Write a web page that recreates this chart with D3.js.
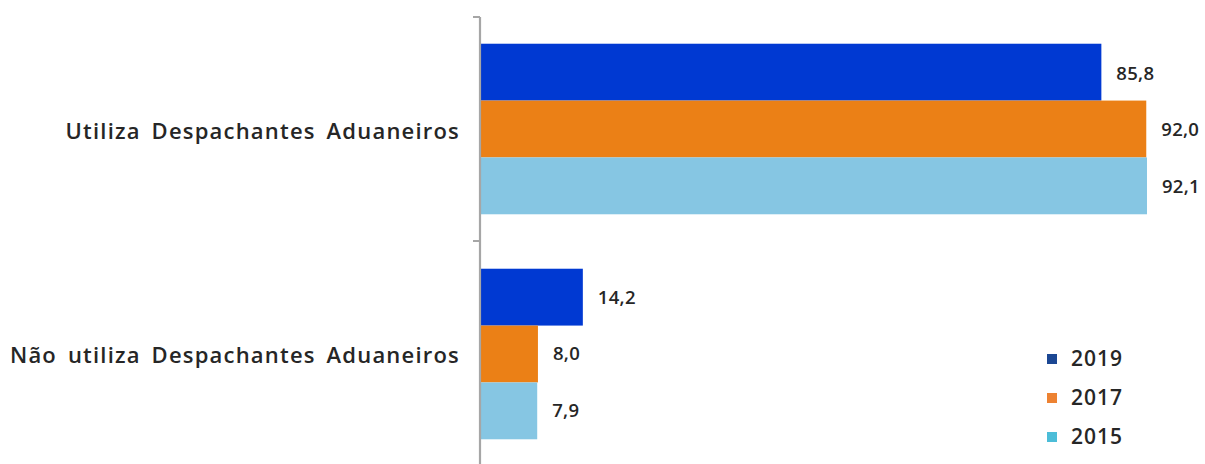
<!DOCTYPE html>
<html><head><meta charset="utf-8">
<script src="https://cdn.jsdelivr.net/npm/d3@7"></script>
<style>body{margin:0;background:#fff;} svg{display:block;font-family:"Open Sans",Lato,sans-serif;}</style>
</head><body>
<svg id="c" width="1205" height="464"></svg>
<script>
const categories = ["Utiliza Despachantes Aduaneiros", "Não utiliza Despachantes Aduaneiros"];
const seriesNames = ["2019", "2017", "2015"];
const values2019 = [85.8, 14.2];
const values2017 = [92.0, 8.0];
const values2015 = [92.1, 7.9];
const seriesValues = [values2019, values2017, values2015];
const barColors = ["#0039D2", "#EB8016", "#86C6E3"];
const legendColors = ["#1B4793", "#ED8232", "#4CBDD8"];

const svg = d3.select("#c");
const x0 = 480;
const x = d3.scaleLinear().domain([0, 100]).range([x0, x0 + 724.2]);
const y = d3.scaleBand().domain(categories).range([17, 465]).padding(0);
const y1 = d3.scaleBand().domain(seriesNames).range([0, y.bandwidth()]).paddingInner(0).paddingOuter(0.47);
const fmt = v => d3.format(".1f")(v).replace(".", ",");

const data = [];
categories.forEach((c, i) => seriesNames.forEach((s, j) => data.push({c, s, j, v: seriesValues[j][i]})));

svg.selectAll("rect.bar").data(data).join("rect").attr("class", "bar")
  .attr("x", x(0) + 1)
  .attr("y", d => y(d.c) + y1(d.s) + (d.c === categories[1] ? 1 : 0))
  .attr("width", d => x(d.v) - x(0) - 1)
  .attr("height", y1.bandwidth())
  .attr("fill", d => barColors[d.j]);

svg.selectAll("text.val").data(data).join("text").attr("class", "val")
  .attr("x", d => x(d.v) + 15)
  .attr("y", d => y(d.c) + y1(d.s) + y1.bandwidth() / 2 + 1)
  .attr("dy", "0.35em")
  .attr("font-size", 18.5).attr("font-weight", 600).attr("fill", "#262626")
  .attr("letter-spacing", "0.3px")
  .text(d => fmt(d.v));

// axis
svg.append("line").attr("x1", x0).attr("x2", x0).attr("y1", 17).attr("y2", 465)
  .attr("stroke", "#A6A6A6").attr("stroke-width", 2.2);
const tickYs = categories.map(c => y(c));
svg.selectAll("line.tk").data(tickYs).join("line").attr("class", "tk")
  .attr("x1", x0 - 7).attr("x2", x0).attr("y1", d => d).attr("y2", d => d)
  .attr("stroke", "#A6A6A6").attr("stroke-width", 2);

svg.selectAll("text.cat").data(categories).join("text").attr("class", "cat")
  .attr("x", x0 - 20)
  .attr("y", d => y(d) + y.bandwidth() / 2 + 2)
  .attr("dy", "0.35em").attr("text-anchor", "end")
  .attr("font-size", 22).attr("font-weight", 600).attr("fill", "#262626")
  .attr("letter-spacing", "1.2px").attr("word-spacing", "4px")
  .text(d => d);

// legend
const lg = svg.append("g");
seriesNames.forEach((s, j) => {
  const cy = 359 + j * 39;
  lg.append("rect").attr("x", 1047).attr("y", cy - 5).attr("width", 10).attr("height", 10).attr("fill", legendColors[j]);
  lg.append("text").attr("x", 1071).attr("y", cy).attr("dy", "0.35em")
    .attr("font-size", 21).attr("font-weight", 600).attr("fill", "#262626")
    .attr("letter-spacing", "1px").text(s);
});
</script>
</body></html>
